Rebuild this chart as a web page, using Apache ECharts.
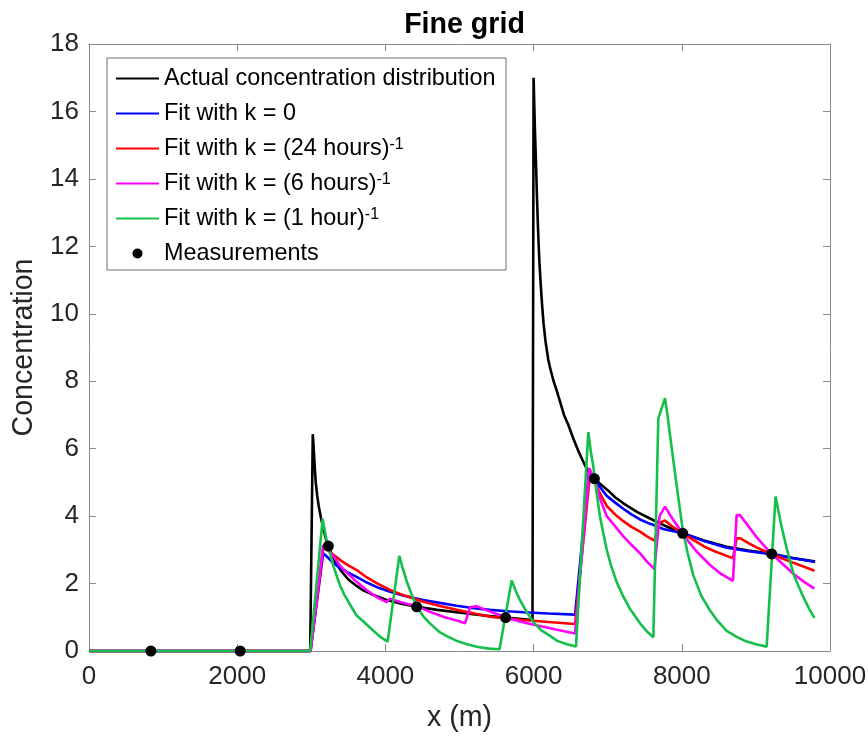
<!DOCTYPE html>
<html>
<head>
<meta charset="utf-8">
<script src="https://cdn.jsdelivr.net/npm/echarts@6/dist/echarts.min.js"></script>
<style>
  html, body { margin: 0; padding: 0; background: #fff; }
  #chart { width: 868px; height: 736px; }
</style>
</head>
<body>
<div id="chart"></div>
<script>
// Concentration along the channel, x in metres, as [x, concentration] pairs.
const actual = [
  [0, 0], [2985, 0], [3020, 6.43], [3030, 6.1], [3045, 5.5], [3060, 5.0], [3080, 4.6],
  [3100, 4.3], [3130, 3.95], [3160, 3.65], [3200, 3.3], [3230, 3.11], [3280, 2.85],
  [3330, 2.62], [3400, 2.38], [3500, 2.12], [3612, 1.93], [3700, 1.8], [3800, 1.7],
  [3900, 1.61], [4017, 1.51], [4200, 1.41], [4422, 1.31], [4700, 1.22], [4962, 1.15],
  [5300, 1.06], [5623, 0.99], [5985, 0.92],
  [6000, 17.0], [6010, 16.1], [6020, 15.3], [6032, 14.5], [6045, 13.5], [6060, 12.5],
  [6077, 11.6], [6095, 10.9], [6115, 10.25], [6135, 9.7], [6160, 9.2], [6180, 8.9],
  [6199, 8.63], [6220, 8.42], [6240, 8.25], [6270, 8.0], [6300, 7.8], [6356, 7.4],
  [6410, 7.0], [6469, 6.7], [6536, 6.3], [6600, 5.95], [6694, 5.5], [6750, 5.3],
  [6820, 5.11], [6900, 4.95], [7000, 4.77], [7100, 4.56], [7211, 4.38], [7400, 4.12],
  [7571, 3.93], [7796, 3.69], [8012, 3.49], [8300, 3.28], [8606, 3.09], [8900, 2.98],
  [9213, 2.88], [9500, 2.76], [9800, 2.65]
];
const fitK0 = [
  [0, 0], [2990, 0], [3160, 2.9], [3220, 2.78], [3300, 2.6], [3400, 2.45], [3500, 2.32],
  [3612, 2.2], [3750, 2.03], [3900, 1.88], [4062, 1.76], [4250, 1.64], [4512, 1.51],
  [4750, 1.42], [4962, 1.34], [5200, 1.27], [5412, 1.22], [5650, 1.18], [5861, 1.15],
  [6200, 1.11], [6560, 1.08], [6745, 5.3], [6820, 5.11], [6900, 4.85], [6987, 4.6],
  [7100, 4.4], [7211, 4.22], [7320, 4.05], [7436, 3.9], [7540, 3.8], [7640, 3.72],
  [7750, 3.62], [7870, 3.56], [8012, 3.49], [8300, 3.26], [8606, 3.06], [8900, 2.96],
  [9213, 2.87], [9500, 2.75], [9790, 2.65]
];
const fitK24h = [
  [0, 0], [2990, 0], [3165, 3.12], [3230, 2.98], [3300, 2.85], [3400, 2.68], [3500, 2.54],
  [3612, 2.4], [3750, 2.18], [3900, 1.99], [4062, 1.81], [4250, 1.65], [4512, 1.46],
  [4750, 1.33], [4962, 1.22], [5200, 1.11], [5412, 1.02], [5650, 0.96], [5861, 0.92],
  [6200, 0.86], [6560, 0.8], [6760, 5.22], [6820, 5.05], [6900, 4.65], [6987, 4.3],
  [7100, 4.05], [7211, 3.85], [7320, 3.68], [7436, 3.54], [7530, 3.4], [7630, 3.27],
  [7700, 3.8], [7773, 3.87], [7880, 3.68], [8012, 3.49], [8150, 3.3], [8300, 3.1],
  [8450, 2.95], [8606, 2.82], [8690, 2.75], [8740, 3.34], [8790, 3.34], [8900, 3.2],
  [9000, 3.08], [9100, 2.98], [9213, 2.88], [9350, 2.75], [9500, 2.62], [9650, 2.5],
  [9790, 2.38]
];
const fitK6h = [
  [0, 0], [2990, 0], [3160, 3.14], [3230, 2.98], [3300, 2.8], [3400, 2.5], [3500, 2.28],
  [3612, 2.05], [3750, 1.8], [3880, 1.6], [4017, 1.45], [4060, 1.55], [4200, 1.45],
  [4422, 1.33], [4600, 1.16], [4800, 1.0], [5000, 0.88], [5074, 0.82], [5142, 1.3],
  [5232, 1.33], [5320, 1.25], [5420, 1.16], [5523, 1.08], [5623, 1.0], [5800, 0.88],
  [6000, 0.78], [6150, 0.71], [6300, 0.64], [6430, 0.58], [6560, 0.52], [6752, 5.42],
  [6820, 5.1], [6900, 4.5], [6987, 4.0], [7100, 3.7], [7211, 3.4], [7320, 3.15],
  [7436, 2.9], [7530, 2.65], [7630, 2.43], [7700, 4.0], [7773, 4.28], [7880, 3.9],
  [8012, 3.49], [8100, 3.22], [8200, 2.95], [8381, 2.55], [8520, 2.3], [8690, 2.08],
  [8740, 4.03], [8785, 4.03], [8900, 3.7], [9000, 3.4], [9100, 3.15], [9213, 2.88],
  [9350, 2.6], [9500, 2.3], [9650, 2.05], [9790, 1.85]
];
const fitK1h = [
  [0, 0], [2985, 0], [3153, 3.92], [3200, 3.35], [3252, 2.9], [3300, 2.5], [3387, 1.95],
  [3450, 1.65], [3530, 1.35], [3612, 1.05], [3700, 0.88], [3837, 0.6], [3930, 0.42],
  [4030, 0.28], [4188, 2.82], [4230, 2.48], [4287, 2.07], [4350, 1.7], [4422, 1.33],
  [4512, 1.03], [4600, 0.82], [4737, 0.55], [4850, 0.42], [4962, 0.3], [5100, 0.2],
  [5250, 0.12], [5400, 0.07], [5540, 0.05], [5704, 2.09], [5760, 1.78], [5816, 1.51],
  [5900, 1.18], [6000, 0.85], [6100, 0.62], [6221, 0.45], [6320, 0.3], [6450, 0.2],
  [6572, 0.13], [6738, 6.49], [6770, 5.95], [6806, 5.47], [6850, 4.7], [6896, 3.98],
  [6940, 3.5], [6987, 3.0], [7050, 2.5], [7120, 2.05], [7211, 1.61], [7300, 1.25],
  [7436, 0.82], [7530, 0.58], [7616, 0.41], [7683, 6.9], [7773, 7.5], [7810, 6.95],
  [7841, 6.4], [7931, 4.9], [8012, 3.6], [8080, 2.9], [8155, 2.25], [8260, 1.65],
  [8381, 1.2], [8480, 0.9], [8606, 0.6], [8740, 0.42], [8876, 0.28], [9000, 0.2],
  [9145, 0.13], [9265, 4.58], [9300, 4.2], [9350, 3.65], [9415, 3.05], [9505, 2.3],
  [9570, 1.95], [9640, 1.6], [9720, 1.25], [9790, 0.98]
];
const measurements = [
  [835, 0], [2040, 0], [3230, 3.11], [4422, 1.31], [5623, 0.99], [6820, 5.11],
  [8012, 3.49], [9213, 2.88]
];

const seriesNames = [
  'Actual concentration distribution',
  'Fit with k = 0',
  'Fit with k = (24 hours)',
  'Fit with k = (6 hours)',
  'Fit with k = (1 hour)',
  'Measurements'
];
const superscripts = ['', '', '-1', '-1', '-1', ''];
const lineColors = ['#000000', '#0000ff', '#ff0000', '#ff00ff', '#14c04a'];
const lineData = [actual, fitK0, fitK24h, fitK6h, fitK1h];

const xTicks = { min: 0, max: 10000, interval: 2000 };
const yTicks = { min: 0, max: 18, interval: 2 };

const FONT = 'Liberation Sans, Arial, Helvetica, sans-serif';
const AXIS_GRAY = '#8a8a8a';
const TEXT_GRAY = '#262626';
const CLEAR = 'rgba(0,0,0,0)';

const chart = echarts.init(document.getElementById('chart'), null, { renderer: 'canvas' });

// Mirror axes on top and right close the box and carry inward ticks.
function frameAxis(pos, isX) {
  const base = isX ? xTicks : yTicks;
  return {
    type: 'value',
    position: pos,
    min: base.min, max: base.max, interval: base.interval,
    axisLine: { show: true, onZero: false, lineStyle: { color: AXIS_GRAY, width: 1 } },
    axisTick: { show: true, inside: true, length: 7, lineStyle: { color: AXIS_GRAY, width: 1 } },
    axisLabel: { show: false },
    splitLine: { show: false }
  };
}

const series = lineData.map((d, i) => ({
  name: seriesNames[i],
  type: 'line',
  data: d,
  symbol: 'none',
  clip: false,
  lineStyle: { color: lineColors[i], width: 2.6 },
  itemStyle: { color: lineColors[i] },
  z: 2 + i
}));
series.push({
  name: seriesNames[5],
  type: 'scatter',
  data: measurements,
  symbol: 'circle',
  symbolSize: 11,
  clip: false,
  itemStyle: { color: '#000000', opacity: 1 },
  z: 10
});

// Legend entries: plain line samples for the curves, a dot for the measurements.
const legendData = seriesNames.map((name, i) => i < 5
  ? { name: name, itemStyle: { color: CLEAR, borderColor: CLEAR, borderWidth: 0 },
      lineStyle: { width: 2 } }
  : { name: name, icon: 'circle', itemStyle: { color: '#000000', opacity: 1 } });

chart.setOption({
  animation: false,
  backgroundColor: '#ffffff',
  title: {
    text: 'Fine grid',
    left: 459.5,
    textAlign: 'center',
    top: 6,
    textStyle: { fontFamily: FONT, fontSize: 28.6, fontWeight: 'bold', color: '#000000' }
  },
  grid: { left: 89, right: 38, top: 44, bottom: 85, outerBoundsMode: 'none' },
  xAxis: [
    {
      type: 'value',
      position: 'bottom',
      min: xTicks.min, max: xTicks.max, interval: xTicks.interval,
      name: 'x (m)',
      nameLocation: 'middle',
      nameGap: 53,
      nameTextStyle: { fontFamily: FONT, fontSize: 28.6, color: TEXT_GRAY },
      axisLine: { show: true, onZero: false, lineStyle: { color: AXIS_GRAY, width: 1 } },
      axisTick: { show: true, inside: true, length: 7, lineStyle: { color: AXIS_GRAY, width: 1 } },
      axisLabel: {
        show: true, margin: 13, fontFamily: FONT, fontSize: 26, color: TEXT_GRAY,
        formatter: v => String(v)
      },
      splitLine: { show: false }
    },
    frameAxis('top', true)
  ],
  yAxis: [
    {
      type: 'value',
      position: 'left',
      min: yTicks.min, max: yTicks.max, interval: yTicks.interval,
      name: 'Concentration',
      nameLocation: 'middle',
      nameGap: 50,
      nameTextStyle: { fontFamily: FONT, fontSize: 28.6, color: TEXT_GRAY },
      axisLine: { show: true, onZero: false, lineStyle: { color: AXIS_GRAY, width: 1 } },
      axisTick: { show: true, inside: true, length: 7, lineStyle: { color: AXIS_GRAY, width: 1 } },
      axisLabel: { show: true, margin: 10, fontFamily: FONT, fontSize: 26, color: TEXT_GRAY },
      splitLine: { show: false }
    },
    frameAxis('right', false)
  ],
  legend: {
    orient: 'vertical',
    left: 107,
    top: 58,
    padding: [9, 6, 5, 8],
    itemGap: 12,
    itemWidth: 43,
    itemHeight: 10,
    backgroundColor: '#ffffff',
    borderColor: '#6e6e6e',
    borderWidth: 1,
    data: legendData,
    formatter: function (name) {
      const sup = superscripts[seriesNames.indexOf(name)];
      return '{b|' + name + '}{s|' + (sup || '\u00a0') + '}';
    },
    textStyle: {
      fontFamily: FONT,
      color: '#000000',
      rich: {
        b: { fontFamily: FONT, fontSize: 23.4, color: '#000000' },
        s: { fontFamily: FONT, fontSize: 16, lineHeight: 6, verticalAlign: 'top', color: '#000000' }
      }
    }
  },
  series: series
});
</script>
</body>
</html>
